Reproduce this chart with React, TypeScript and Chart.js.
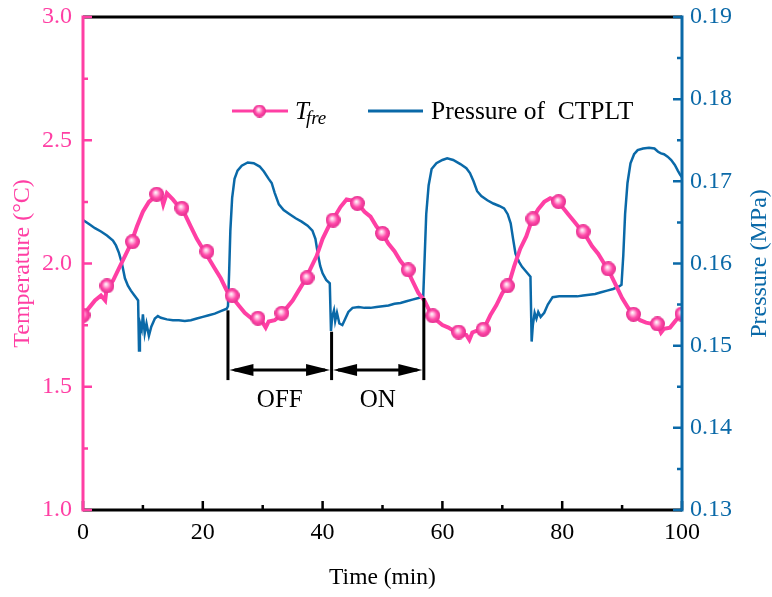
import React, { useEffect, useRef } from "react";
import { Chart, registerables } from "chart.js";
Chart.register(...registerables);

const PINK = "#FF3FA4";
const BLUE = "#0A69A8";
const FONT = "'Liberation Serif', 'Times New Roman', serif";

// ---- data ----
const tempTime = [0,1,2,3,3.7,4,5,6,7,8,9,10,11,12,13,13.4,14,15,16,17,18,19,20,21,22,23,24,25,26,27,28,29,30,30.5,31,32,33,34,35,36,37,38,39,40,41,42,43,44,45,46,47,48,49,50,51,52,53,54,55,56,57,58,59,60,61,62,63,64,64.5,65,66,67,68,69,70,71,72,73,74,75,76,77,78,79,80,81,82,83,84,85,86,87,88,89,90,91,92,93,94,95,96,96.5,97,98,99,100];
const tempValues = [1.79,1.82,1.85,1.87,1.85,1.91,1.93,1.98,2.03,2.08,2.15,2.21,2.25,2.27,2.28,2.24,2.285,2.26,2.23,2.20,2.15,2.10,2.06,2.02,1.98,1.94,1.89,1.86,1.83,1.80,1.78,1.77,1.76,1.74,1.765,1.77,1.79,1.82,1.85,1.89,1.93,1.98,2.03,2.10,2.15,2.19,2.23,2.26,2.255,2.24,2.21,2.19,2.15,2.12,2.08,2.05,2.01,1.98,1.93,1.88,1.85,1.80,1.77,1.75,1.74,1.725,1.715,1.71,1.69,1.72,1.73,1.74,1.79,1.83,1.88,1.91,1.99,2.06,2.11,2.18,2.22,2.25,2.265,2.255,2.23,2.20,2.17,2.14,2.11,2.07,2.04,2.00,1.96,1.91,1.86,1.82,1.79,1.77,1.76,1.755,1.75,1.72,1.735,1.74,1.77,1.795];

const markerTime = [0,4.0,8.25,12.3,16.5,20.7,24.9,29.2,33.2,37.4,41.75,45.8,50.0,54.3,58.4,62.7,66.8,70.85,75.1,79.4,83.5,87.7,91.9,95.9,100];
const markerValues = [1.79,1.909,2.088,2.281,2.224,2.048,1.869,1.778,1.798,1.942,2.176,2.244,2.122,1.974,1.788,1.722,1.733,1.909,2.181,2.251,2.129,1.978,1.794,1.755,1.795];

const presTime = [0,1,2,3,4,5,5.5,6,6.5,7,7.5,8,8.5,9,9.2,9.35,9.5,9.8,10.0,10.3,10.6,11.0,11.4,12.0,12.5,13,14,15,16,17,18,19,20,21,22,23,24,24.2,24.4,24.6,24.9,25.3,25.8,26.5,27.5,28.5,29.5,30.2,31,31.5,32,32.7,33.5,34.5,35.5,36.5,37.5,38.3,38.8,39.2,39.6,40.0,40.6,41.2,41.4,41.6,41.9,42.1,42.4,42.8,43.3,43.8,44.3,45,46,47,48,49,50,51,52,53,54,55,56,56.8,57.0,57.3,57.7,58.2,59,60,60.8,61.8,63,64,64.6,65.2,65.8,66.5,67.5,68.5,69.5,70.3,70.9,71.4,71.8,72.2,72.8,73.3,74,74.7,74.9,75.1,75.4,75.7,76.0,76.4,77.0,77.6,78.4,79.5,80.5,81.5,82.5,83.5,84.5,85.5,86.5,87.5,88.5,89.5,89.9,90.2,90.5,90.9,91.4,92,92.6,93.5,94.5,95.4,96,96.5,97,97.6,98.2,98.8,99.3,99.7,100];
const presValues = [0.1653,0.1648,0.1643,0.1639,0.1634,0.1628,0.1622,0.1613,0.1600,0.1582,0.1573,0.1567,0.1562,0.1557,0.1555,0.1494,0.1528,0.1520,0.1538,0.1515,0.1527,0.1512,0.1523,0.1533,0.1536,0.1534,0.1532,0.1531,0.1531,0.1530,0.1531,0.1533,0.1535,0.1537,0.1539,0.1542,0.1545,0.1548,0.1590,0.1640,0.1680,0.1703,0.1713,0.1719,0.1723,0.1722,0.1718,0.1712,0.1703,0.1698,0.1686,0.1672,0.1665,0.1660,0.1655,0.1651,0.1646,0.1640,0.1630,0.1612,0.1597,0.1588,0.1580,0.1576,0.1518,0.1535,0.1543,0.1530,0.1540,0.1527,0.1525,0.1533,0.1541,0.1546,0.1547,0.1546,0.1546,0.1547,0.1548,0.1549,0.1551,0.1552,0.1554,0.1556,0.1558,0.1560,0.1600,0.1660,0.1695,0.1715,0.1722,0.1726,0.1728,0.1726,0.1721,0.1716,0.1710,0.1700,0.1688,0.1682,0.1677,0.1673,0.1670,0.1667,0.1660,0.1649,0.1630,0.1612,0.1602,0.1596,0.1590,0.1584,0.1505,0.1525,0.1540,0.1533,0.1541,0.1535,0.1540,0.1550,0.1559,0.1560,0.1560,0.1560,0.1560,0.1561,0.1562,0.1563,0.1565,0.1567,0.1569,0.1572,0.1574,0.1610,0.1660,0.1698,0.1722,0.1733,0.1738,0.1740,0.1741,0.1740,0.1736,0.1734,0.1733,0.1730,0.1726,0.1720,0.1713,0.1708,0.1705];

const xTicks = [0, 20, 40, 60, 80, 100];
const xMinorTicks = [10, 30, 50, 70, 90];
const tempTicks = [1.0, 1.5, 2.0, 2.5, 3.0];
const tempMinorTicks = [1.25, 1.75, 2.25, 2.75];
const presTicks = [0.13, 0.14, 0.15, 0.16, 0.17, 0.18, 0.19];
const presMinorTicks = [0.135, 0.145, 0.155, 0.165, 0.175, 0.185];

// annotation: phase boundaries (min), top of marker line (MPa), labels
const phaseBounds = [24.2, 41.5, 56.9];
const phaseTopPressure = [0.1543, 0.1517, 0.1558];
const phaseLabels = ["OFF", "ON"];
const phaseLineBottomT = 1.527;
const phaseArrowT = 1.568;
const phaseLabelT = 1.446;

function makeBall(d: number) {
  const c = document.createElement("canvas");
  c.width = d;
  c.height = d;
  const g = c.getContext("2d")!;
  const r = d / 2;
  const grad = g.createRadialGradient(r * 0.85, r * 0.75, 0, r, r, r);
  grad.addColorStop(0, "#ffffff");
  grad.addColorStop(0.22, "#ffc6e4");
  grad.addColorStop(0.6, "#ff4aa9");
  grad.addColorStop(1, "#e22d8d");
  g.fillStyle = grad;
  g.beginPath();
  g.arc(r, r, r, 0, Math.PI * 2);
  g.fill();
  return c;
}

export default function App() {
  const ref = useRef<HTMLCanvasElement | null>(null);
  useEffect(() => {
    document.body.style.margin = "0";
    const canvas = ref.current!;
    const ball = makeBall(15);
    const legendBall = makeBall(13);

    const decor = {
      id: "decor",
      afterDatasetsDraw(chart: any) {
        const { ctx, chartArea: a, scales } = chart;
        const x = scales.x, yT = scales.yT, yP = scales.yP;
        ctx.save();
        // phase markers
        ctx.strokeStyle = "#000";
        ctx.fillStyle = "#000";
        ctx.lineWidth = 3;
        const yBottom = yT.getPixelForValue(phaseLineBottomT);
        const yArrow = yT.getPixelForValue(phaseArrowT);
        const xs = phaseBounds.map((t) => x.getPixelForValue(t));
        xs.forEach((px, i) => {
          ctx.beginPath();
          ctx.moveTo(px, yP.getPixelForValue(phaseTopPressure[i]));
          ctx.lineTo(px, yBottom);
          ctx.stroke();
        });
        const headL = 24, headH = 6;
        for (let i = 0; i < phaseLabels.length; i++) {
          const x1 = xs[i] + 1.5, x2 = xs[i + 1] - 1.5;
          ctx.lineWidth = 3;
          ctx.beginPath();
          ctx.moveTo(x1 + 5, yArrow);
          ctx.lineTo(x2 - 5, yArrow);
          ctx.stroke();
          ctx.beginPath();
          ctx.moveTo(x1, yArrow);
          ctx.lineTo(x1 + headL, yArrow - headH);
          ctx.lineTo(x1 + headL, yArrow + headH);
          ctx.closePath();
          ctx.fill();
          ctx.beginPath();
          ctx.moveTo(x2, yArrow);
          ctx.lineTo(x2 - headL, yArrow - headH);
          ctx.lineTo(x2 - headL, yArrow + headH);
          ctx.closePath();
          ctx.fill();
          ctx.font = `25px ${FONT}`;
          ctx.textAlign = "center";
          ctx.textBaseline = "middle";
          ctx.fillText(phaseLabels[i], (xs[i] + xs[i + 1]) / 2, yT.getPixelForValue(phaseLabelT));
        }

        // axes frame
        ctx.lineWidth = 3;
        ctx.strokeStyle = "#000";
        ctx.beginPath();
        ctx.moveTo(a.left, a.top);
        ctx.lineTo(a.right, a.top);
        ctx.moveTo(a.left, a.bottom);
        ctx.lineTo(a.right, a.bottom);
        ctx.stroke();
        // x ticks (inward)
        ctx.lineWidth = 2.5;
        ctx.beginPath();
        xTicks.forEach((v) => {
          const px = x.getPixelForValue(v);
          ctx.moveTo(px, a.bottom);
          ctx.lineTo(px, a.bottom - 9);
        });
        xMinorTicks.forEach((v) => {
          const px = x.getPixelForValue(v);
          ctx.moveTo(px, a.bottom);
          ctx.lineTo(px, a.bottom - 5);
        });
        ctx.stroke();
        // left axis
        ctx.strokeStyle = PINK;
        ctx.lineWidth = 3;
        ctx.beginPath();
        ctx.moveTo(a.left, a.top - 1.5);
        ctx.lineTo(a.left, a.bottom + 1.5);
        ctx.stroke();
        ctx.lineWidth = 2.5;
        ctx.beginPath();
        tempTicks.forEach((v) => {
          const py = yT.getPixelForValue(v);
          ctx.moveTo(a.left, py);
          ctx.lineTo(a.left + 9, py);
        });
        tempMinorTicks.forEach((v) => {
          const py = yT.getPixelForValue(v);
          ctx.moveTo(a.left, py);
          ctx.lineTo(a.left + 5, py);
        });
        ctx.stroke();
        // right axis
        ctx.strokeStyle = BLUE;
        ctx.lineWidth = 3;
        ctx.beginPath();
        ctx.moveTo(a.right, a.top - 1.5);
        ctx.lineTo(a.right, a.bottom + 1.5);
        ctx.stroke();
        ctx.lineWidth = 2.5;
        ctx.beginPath();
        presTicks.forEach((v) => {
          const py = yP.getPixelForValue(v);
          ctx.moveTo(a.right, py);
          ctx.lineTo(a.right - 9, py);
        });
        presMinorTicks.forEach((v) => {
          const py = yP.getPixelForValue(v);
          ctx.moveTo(a.right, py);
          ctx.lineTo(a.right - 5, py);
        });
        ctx.stroke();

        // right axis title (reads bottom-to-top like the left one)
        ctx.save();
        ctx.translate(760, (a.top + a.bottom) / 2);
        ctx.rotate(-Math.PI / 2);
        ctx.fillStyle = BLUE;
        ctx.font = `24px ${FONT}`;
        ctx.textAlign = "center";
        ctx.textBaseline = "middle";
        ctx.fillText("Pressure (MPa)", 0, 0);
        ctx.restore();

        // legend
        const ly = 111;
        ctx.strokeStyle = PINK;
        ctx.lineWidth = 3;
        ctx.beginPath();
        ctx.moveTo(232, ly);
        ctx.lineTo(288, ly);
        ctx.stroke();
        ctx.drawImage(legendBall, 259.5 - 6.5, ly - 6.5);
        ctx.fillStyle = "#000";
        ctx.textAlign = "left";
        ctx.textBaseline = "alphabetic";
        ctx.font = `italic 25px ${FONT}`;
        ctx.fillText("T", 295, 119);
        const tw = ctx.measureText("T").width;
        ctx.font = `italic 19px ${FONT}`;
        ctx.fillText("fre", 295 + tw - 3, 124);
        ctx.strokeStyle = BLUE;
        ctx.beginPath();
        ctx.moveTo(368, ly);
        ctx.lineTo(423, ly);
        ctx.stroke();
        ctx.font = `25.5px ${FONT}`;
        ctx.fillText("Pressure of  CTPLT", 431, 119);
        ctx.restore();
      },
    };

    const chart = new Chart(canvas, {
      type: "line",
      data: {
        datasets: [
          {
            label: "markers",
            data: markerTime.map((t, i) => ({ x: t, y: markerValues[i] })),
            yAxisID: "yT",
            showLine: false,
            pointStyle: ball as any,
            pointRadius: 7.5,
            borderColor: PINK,
            backgroundColor: PINK,
          },
          {
            label: "T_fre",
            data: tempTime.map((t, i) => ({ x: t, y: tempValues[i] })),
            yAxisID: "yT",
            borderColor: PINK,
            borderWidth: 4,
            pointRadius: 0,
            tension: 0,
          },
          {
            label: "Pressure of CTPLT",
            data: presTime.map((t, i) => ({ x: t, y: presValues[i] })),
            yAxisID: "yP",
            borderColor: BLUE,
            borderWidth: 2.5,
            pointRadius: 0,
            tension: 0,
          },
        ],
      },
      options: {
        responsive: false,
        animation: false,
        events: [],
        layout: { padding: { top: 17, left: 0, right: 0, bottom: 0 } },
        plugins: { legend: { display: false }, tooltip: { enabled: false } },
        scales: {
          x: {
            type: "linear",
            min: 0,
            max: 100,
            afterBuildTicks: (s: any) => {
              s.ticks = xTicks.map((v) => ({ value: v }));
            },
            afterFit: (s: any) => {
              s.height = 87;
              s.paddingLeft = 0;
              s.paddingRight = 0;
            },
            grid: { display: false, drawTicks: false },
            border: { display: false },
            ticks: {
              padding: 8,
              color: "#000",
              font: { family: FONT, size: 24 },
              maxRotation: 0,
              autoSkip: false,
            },
            title: {
              display: true,
              text: "Time (min)",
              color: "#000",
              font: { family: FONT, size: 23.5 },
              padding: { top: 0, bottom: 5 },
            },
          },
          yT: {
            type: "linear",
            position: "left",
            min: 1,
            max: 3,
            afterBuildTicks: (s: any) => {
              s.ticks = tempTicks.map((v) => ({ value: v }));
            },
            afterFit: (s: any) => {
              s.width = 83;
              s.paddingTop = 0;
              s.paddingBottom = 0;
            },
            grid: { display: false, drawTicks: false },
            border: { display: false },
            ticks: {
              padding: 11,
              color: PINK,
              font: { family: FONT, size: 24 },
              callback: (v: any) => Number(v).toFixed(1),
            },
            title: {
              display: true,
              text: "Temperature (°C)",
              color: PINK,
              font: { family: FONT, size: 24 },
              padding: { top: 8, bottom: 0 },
            },
          },
          yP: {
            type: "linear",
            position: "right",
            min: 0.13,
            max: 0.19,
            afterBuildTicks: (s: any) => {
              s.ticks = presTicks.map((v) => ({ value: v }));
            },
            afterFit: (s: any) => {
              s.width = 90;
              s.paddingTop = 0;
              s.paddingBottom = 0;
            },
            grid: { display: false, drawTicks: false },
            border: { display: false },
            ticks: {
              padding: 8,
              color: BLUE,
              font: { family: FONT, size: 24 },
              callback: (v: any) => Number(v).toFixed(2),
            },
            title: { display: false },
          },
        },
      },
      plugins: [decor],
    } as any);
    return () => chart.destroy();
  }, []);

  return (
    <div style={{ position: "absolute", left: 0, top: 0, width: 772, height: 597, background: "#fff" }}>
      <canvas ref={ref} width={772} height={597} style={{ display: "block" }} />
    </div>
  );
}
